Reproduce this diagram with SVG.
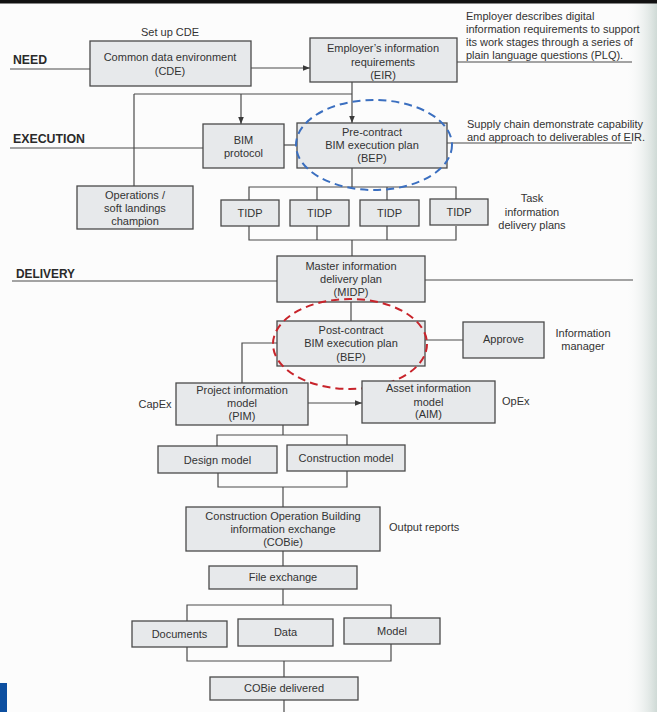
<svg xmlns="http://www.w3.org/2000/svg" width="657" height="712" viewBox="0 0 657 712">
<defs>
<linearGradient id="edge" x1="0" y1="0" x2="1" y2="0">
<stop offset="0" stop-color="#fcfcfc" stop-opacity="0"/>
<stop offset="1" stop-color="#cfdad6"/>
</linearGradient>
<marker id="arr" viewBox="0 0 10 10" refX="10" refY="5" markerWidth="7" markerHeight="7" markerUnits="userSpaceOnUse" orient="auto">
<path d="M0,1 L10,5 L0,9 Z" fill="#3a3a3a"/>
</marker>
<style>
.bg{fill:#fcfcfc}
.box rect{fill:#e7e9eb;stroke:#4a4a4a;stroke-width:1.3}
text{font-family:"Liberation Sans",Arial,sans-serif;font-size:11px;fill:#333}
.c{text-anchor:middle}
.h{font-weight:bold;font-size:13px;fill:#2a2a2a}
.ln{fill:none;stroke:#4a4a4a;stroke-width:1.2}
.ar{marker-end:url(#arr)}
.blue{fill:none;stroke:#3b6fc0;stroke-width:2;stroke-dasharray:8 5}
.red{fill:none;stroke:#c8242b;stroke-width:2;stroke-dasharray:8 5}
</style>
</defs>
<rect class="bg" x="0" y="0" width="657" height="712"/>
<rect x="625" y="0" width="32" height="712" fill="url(#edge)"/>
<rect x="0" y="0" width="657" height="3.5" fill="#111"/>
<rect x="0" y="683" width="7" height="29" fill="#0d4fa0"/>

<g id="headings">
<text class="h" x="13" y="64" textLength="34" lengthAdjust="spacingAndGlyphs">NEED</text>
<text class="h" x="13" y="143" textLength="72" lengthAdjust="spacingAndGlyphs">EXECUTION</text>
<text class="h" x="16" y="278" textLength="59" lengthAdjust="spacingAndGlyphs">DELIVERY</text>
</g>

<g id="connectors">
<path class="ln" d="M10 69 H90"/>
<path class="ln ar" d="M251 68 H310"/>
<path class="ln" d="M457 62 H632"/>
<path class="ln ar" d="M352 82 V123"/>
<path class="ln" d="M134 94 H352"/>
<path class="ln" d="M134 94 V186"/>
<path class="ln ar" d="M241 94 V124"/>
<path class="ln" d="M10 148 H203"/>
<path class="ln" d="M284 145 H297"/>
<path class="ln" d="M447 143 H632"/>
<path class="ln" d="M352 168 V187"/>
<path class="ln" d="M249 200 V187 H456 V200 M317 187 V200 M387 187 V200"/>
<path class="ln" d="M249 226 V240 H456 V226 M317 226 V240 M387 226 V240"/>
<path class="ln" d="M352 240 V256"/>
<path class="ln" d="M12 281 H277"/>
<path class="ln" d="M425 280 H633"/>
<path class="ln" d="M351 302 V321"/>
<path class="ln" d="M277 343 H242 V383"/>
<path class="ln" d="M425 340 H463"/>
<path class="ln ar" d="M308 403 H362"/>
<path class="ln" d="M283 425 V435"/>
<path class="ln" d="M217 446 V435 H347 V445"/>
<path class="ln" d="M218 473 V487 H347 V471"/>
<path class="ln" d="M283 487 V507"/>
<path class="ln" d="M283 551 V566"/>
<path class="ln" d="M283 589 V605"/>
<path class="ln" d="M187 621 V605 H391 V618"/>
<path class="ln" d="M187 647 V661 H391 V644"/>
<path class="ln" d="M284 661 V677"/>
<path class="ln" d="M284 700 V712"/>
</g>

<g id="cde" class="box">
<rect x="90" y="41" width="161" height="45"/>
<text class="c" x="170" y="61">Common data environment</text>
<text class="c" x="170" y="75">(CDE)</text>
</g>
<text class="c" x="170" y="36">Set up CDE</text>

<g id="eir" class="box">
<rect x="310" y="38" width="147" height="44"/>
<text class="c" x="383" y="52">Employer’s information</text>
<text class="c" x="383" y="66">requirements</text>
<text class="c" x="383" y="79">(EIR)</text>
</g>
<g id="eir-note">
<text x="466" y="20">Employer describes digital</text>
<text x="466" y="33">information requirements to support</text>
<text x="466" y="46">its work stages through a series of</text>
<text x="466" y="59">plain language questions (PLQ).</text>
</g>

<g id="bim-protocol" class="box">
<rect x="203" y="124" width="81" height="44"/>
<text class="c" x="243.5" y="144">BIM</text>
<text class="c" x="243.5" y="157">protocol</text>
</g>

<g id="bep-pre" class="box">
<rect x="297" y="123" width="150" height="45"/>
<text class="c" x="372" y="136">Pre-contract</text>
<text class="c" x="372" y="149">BIM execution plan</text>
<text class="c" x="372" y="162">(BEP)</text>
</g>
<ellipse class="blue" cx="374" cy="145" rx="78" ry="45"/>
<g id="bep-note">
<text x="467" y="128">Supply chain demonstrate capability</text>
<text x="467" y="141">and approach to deliverables of EIR.</text>
</g>

<g id="ops" class="box">
<rect x="77" y="186" width="116" height="43"/>
<text class="c" x="135" y="199">Operations /</text>
<text class="c" x="135" y="212">soft landings</text>
<text class="c" x="135" y="225">champion</text>
</g>

<g id="tidp1" class="box"><rect x="221" y="200" width="58" height="26"/><text class="c" x="250" y="217">TIDP</text></g>
<g id="tidp2" class="box"><rect x="290" y="200" width="59" height="26"/><text class="c" x="319.5" y="217">TIDP</text></g>
<g id="tidp3" class="box"><rect x="360" y="200" width="59" height="26"/><text class="c" x="389.5" y="217">TIDP</text></g>
<g id="tidp4" class="box"><rect x="430" y="199" width="58" height="26"/><text class="c" x="459" y="216">TIDP</text></g>
<g id="tidp-note">
<text class="c" x="532" y="202">Task</text>
<text class="c" x="532" y="216">information</text>
<text class="c" x="532" y="229">delivery plans</text>
</g>

<g id="midp" class="box">
<rect x="277" y="256" width="148" height="46"/>
<text class="c" x="351" y="270">Master information</text>
<text class="c" x="351" y="283">delivery plan</text>
<text class="c" x="351" y="296">(MIDP)</text>
</g>

<g id="bep-post" class="box">
<rect x="277" y="321" width="148" height="45"/>
<text class="c" x="351" y="334">Post-contract</text>
<text class="c" x="351" y="347">BIM execution plan</text>
<text class="c" x="351" y="361">(BEP)</text>
</g>
<ellipse class="red" cx="350" cy="344" rx="77" ry="45"/>

<g id="approve" class="box">
<rect x="463" y="322" width="81" height="36"/>
<text class="c" x="503.5" y="343">Approve</text>
</g>
<g id="im-note">
<text class="c" x="583" y="337">Information</text>
<text class="c" x="583" y="350">manager</text>
</g>

<g id="pim" class="box">
<rect x="176" y="383" width="132" height="42"/>
<text class="c" x="242" y="394">Project information</text>
<text class="c" x="242" y="407">model</text>
<text class="c" x="242" y="420">(PIM)</text>
</g>
<text class="c" x="155" y="408">CapEx</text>

<g id="aim" class="box">
<rect x="362" y="381" width="133" height="42"/>
<text class="c" x="428.5" y="392">Asset information</text>
<text class="c" x="428.5" y="406">model</text>
<text class="c" x="428.5" y="418">(AIM)</text>
</g>
<text x="502" y="405">OpEx</text>

<g id="design" class="box">
<rect x="158" y="446" width="119" height="27"/>
<text class="c" x="217.5" y="464">Design model</text>
</g>
<g id="construction" class="box">
<rect x="287" y="445" width="118" height="26"/>
<text class="c" x="346" y="462">Construction model</text>
</g>

<g id="cobie" class="box">
<rect x="186" y="507" width="194" height="44"/>
<text class="c" x="283" y="520">Construction Operation Building</text>
<text class="c" x="283" y="533">information exchange</text>
<text class="c" x="283" y="546">(COBie)</text>
</g>
<text x="389" y="531">Output reports</text>

<g id="file-exchange" class="box">
<rect x="209" y="566" width="148" height="23"/>
<text class="c" x="283" y="581">File exchange</text>
</g>

<g id="documents" class="box"><rect x="132" y="621" width="95" height="26"/><text class="c" x="179.5" y="638">Documents</text></g>
<g id="data" class="box"><rect x="238" y="619" width="95" height="27"/><text class="c" x="285.5" y="636">Data</text></g>
<g id="model" class="box"><rect x="344" y="618" width="96" height="26"/><text class="c" x="392" y="635">Model</text></g>

<g id="cobie-delivered" class="box">
<rect x="210" y="677" width="148" height="23"/>
<text class="c" x="284" y="692">COBie delivered</text>
</g>
</svg>
